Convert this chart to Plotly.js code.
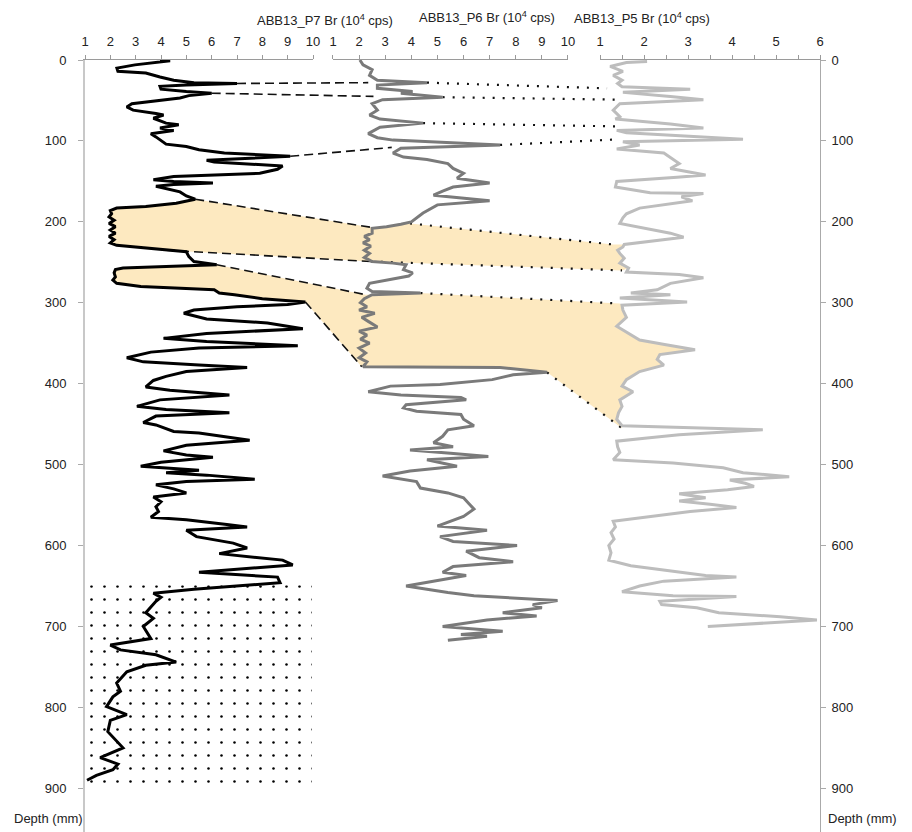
<!DOCTYPE html>
<html><head><meta charset="utf-8">
<script src="https://cdn.plot.ly/plotly-3.0.1.min.js"></script>
<style>body{margin:0;background:#fff}</style>
</head><body><div id="chart" style="width:912px;height:832px"></div>
<script>
// ---------- data (Br, 10^4 cps, vs depth in mm) ----------
const p7Depth = [0,1,6,10,14,16,21,25,28,29,31,32.5,36,39,41,44,47,51,54,58,62,66,68,72,78,80,84,87,91,95,101,104,107,111,115,119,124,126,131,135,140,144,148,150,152,154,156,160,163,168,172,177,181,183,186,190,194,198,202,206,210,214,218,222,226,229,232,235,237,243,249,253,255,257,259,263,268,272,276,280,284,288,290,295,299,302,305,309,313,320,325,332,338,344,348,353,356,361,368,373,377,380,385,391,396,404,408,414,420,428,432,436,440,448,451,459,461,470,476,483,488,491,497,502,507,510,513,518,521,525,530,535,540,546,552,558,565,568,574,577,581,589,597,603,610,618,624,633,639,646,654,659,664,669,676,683,690,700,705,715,723,729,735,744,748,756,770,780,787,799,809,816,830,840,850,862,870,877,884,890];
const p7Br = [3.96,4.36,2.97,2.26,2.3,3.4,3.96,4.5,5.3,7.0,5.0,3.96,4.0,5.0,6.0,5.1,4.75,3.6,2.85,2.65,2.9,3.8,4.1,3.7,4.2,4.7,3.96,4.5,3.6,3.8,4.1,4.2,5.0,5.5,6.5,9.1,5.8,6.1,8.8,8.6,7.9,4.5,3.7,4.5,6.05,4.5,3.8,4.3,4.75,5.0,5.35,4.6,3.4,2.25,2.0,2.05,1.95,2.15,1.95,2.2,2.0,2.2,1.95,2.15,2.0,2.25,3.3,4.2,5.0,5.1,5.3,6.2,3.8,2.5,2.2,2.15,2.2,2.1,2.25,3.2,6.1,6.3,6.9,8.0,9.7,9.0,7.0,5.3,4.9,5.8,8.2,9.6,5.8,4.1,5.8,9.4,5.5,3.6,2.65,3.3,5.5,7.4,5.0,4.2,3.7,3.4,4.35,6.7,3.96,3.05,4.2,6.7,3.8,3.3,3.8,4.5,5.5,7.5,5.0,4.1,5.0,6.05,4.0,3.2,5.5,4.2,5.8,7.7,5.0,3.8,4.5,5.0,3.7,4.0,3.8,3.9,3.6,5.0,6.6,7.4,5.0,5.4,6.85,7.4,6.3,8.8,9.2,5.5,8.6,8.7,5.3,3.7,4.0,3.8,3.6,3.4,3.7,3.3,3.4,3.6,2.0,2.4,3.8,4.6,3.4,2.65,2.25,2.4,2.1,1.85,2.65,2.0,1.9,2.2,2.5,1.6,2.3,2.1,1.45,1.08];

const p6Depth = [0,6,12,19,25,28,31,35,39,41,46,49,54,62,68,73,78,83,91,96,99,102,105,109,115,120,123,128,134,140,146,152,157,162,167,174,179,189,195,200,203,206,208,214,218,222,226,230,235,239,244,249,251,253,259,263,267,272,276,282,286,288,290,295,300,305,309,313,318,323,330,335,340,345,350,356,362,368,373,379,380,386,389,395,401,403,410,414,417,420,426,430,434,438,444,452,457,465,473,478,482,486,490,494,502,508,514,521,529,535,541,548,555,564,570,576,581,589,595,600,607,615,620,626,633,637,650,658,662,668,673,677,683,687,692,700,706,710,712,717];
const p6Br = [2.03,2.15,2.5,2.4,2.7,4.6,2.7,2.7,4.05,3.6,5.2,2.9,2.5,2.7,2.4,2.8,4.45,2.8,2.35,2.7,3.3,5.1,7.4,3.6,3.3,3.7,4.6,5.4,5.6,6.0,5.75,7.0,5.6,5.2,4.85,7.0,5.0,4.45,4.2,4.0,3.6,3.05,2.5,2.5,2.2,2.4,2.15,2.45,2.2,2.4,2.2,2.5,3.3,3.8,3.7,4.05,3.9,3.05,2.4,2.3,2.5,4.35,2.5,2.2,2.05,2.3,2.0,2.6,2.1,2.35,2.7,2.0,2.3,2.05,2.4,2.0,2.25,2.0,2.3,2.15,7.4,9.2,7.9,7.1,5.1,3.2,2.35,3.6,5.9,6.1,3.8,3.7,4.2,5.9,6.0,6.4,5.4,5.2,4.85,5.6,3.95,5.5,6.95,4.6,5.75,3.95,2.9,4.2,4.35,5.4,6.0,6.2,6.4,6.0,5.5,5.0,6.9,5.1,5.6,8.05,6.1,6.6,7.9,5.6,5.2,6.1,3.8,5.4,6.4,9.6,8.65,9.0,7.5,8.8,6.9,5.2,7.5,5.9,6.9,5.4];

const p5Depth = [2,3,8,14,19,25,29,33,36,40,45,49,54,62,70,73,79,84,87,90,98,101,105,110,115,121,128,134,142,145,150,157,164,165,169,174,180,183,190,195,202,206,210,214,219,224,228,231,235,239,245,251,257,262,265,269,276,284,288,290,294,299,303,309,318,329,336,346,352,358,364,370,377,385,395,403,410,420,428,436,444,452,457,463,467,471,478,485,494,498,504,510,515,519,523,527,531,536,541,545,549,553,558,565,570,577,584,592,600,609,618,625,632,637,639,644,650,657,662,663,669,673,677,683,688,692,700];
const p5Br = [2.07,1.6,1.23,1.52,1.3,1.5,1.4,1.5,3.05,1.52,2.6,3.35,1.45,1.3,1.45,1.35,2.6,3.35,1.38,1.6,4.25,1.52,1.9,1.38,2.45,2.6,2.8,2.6,3.4,2.75,1.38,1.35,2.14,3.35,2.85,3.1,2.36,1.9,1.6,1.52,1.45,1.84,2.2,2.6,2.9,2.2,1.55,1.52,1.4,1.45,1.55,1.45,1.65,1.6,2.8,3.35,2.6,2.3,1.7,2.6,1.45,2.98,1.5,1.52,1.6,1.38,1.6,1.9,2.5,3.16,2.36,2.3,2.45,1.9,1.6,1.5,1.75,1.45,1.5,1.42,1.38,1.5,4.7,2.8,2.07,1.38,1.4,1.45,1.3,2.66,3.8,4.25,5.3,3.95,4.3,4.5,3.9,2.8,3.4,2.8,3.5,4.1,3.05,2.07,1.3,1.35,1.25,1.32,1.2,1.25,1.2,1.7,2.75,3.4,4.1,2.45,1.9,1.5,2.66,4.1,2.36,2.4,3.2,3.7,5.1,5.93,3.45];

// correlation ties: dashed P7 -> P6, dotted P6 -> P5
const dashP7Br    = [7.0, 6.0, 9.1, 5.35, 4.2, 6.2, 9.7];
const dashP7Depth = [29, 41, 119, 172, 235, 253, 299];
const dashP6Br    = [2.35, 2.55, 3.25, 2.5, 2.45, 2.25, 2.1];
const dashP6Depth = [28, 45, 108, 207, 249, 290, 379];
const dotP6Br     = [4.6, 5.2, 4.45, 7.4, 3.95, 2.45, 4.35, 9.2];
const dotP6Depth  = [28, 46, 78, 105, 202, 249, 288, 386];
const dotP5Br     = [1.16, 1.45, 1.34, 1.45, 1.3, 1.5, 1.45, 1.5];
const dotP5Depth  = [35, 49, 82, 98, 228, 260, 301, 455];
// shaded correlated bands: indices into the tie arrays
const bandUpperDash = [3, 5];
const bandLowerDash = [4, 6];
const bandUpperDot  = [4, 6];
const bandLowerDot  = [5, 7];
// stippled interval in P7
const stippleBr = [1.05, 9.95];
const stippleDepth = [649, 897];
const depthTicks = [0,100,200,300,400,500,600,700,800,900];

// ---------- panel geometry ----------
const DOM = {p7:[0,0.3102], p6:[0.3374,0.6571], p5:[0.7007,1]};
const RNG = {p7:[1,10], p6:[1,10], p5:[1,6]};
function fx(panel, v){const d=DOM[panel], r=RNG[panel]; return d[0]+(v-r[0])/(r[1]-r[0])*(d[1]-d[0]);}
function seg(dep, val, d0, d1){const o=[]; for(let i=0;i<dep.length;i++){ if(dep[i]>=d0 && dep[i]<=d1) o.push([val[i],dep[i]]);} return o;}

const traces = [];
// shaded bands
for (let b=0;b<bandUpperDash.length;b++){
  const ud=bandUpperDash[b], ld=bandLowerDash[b], uo=bandUpperDot[b], lo=bandLowerDot[b];
  const X=[], Y=[];
  const add=(p,v,d)=>{X.push(fx(p,v)); Y.push(d);};
  add('p7', dashP7Br[ud], dashP7Depth[ud]);
  seg(p7Depth,p7Br,dashP7Depth[ud],dashP7Depth[ld]).forEach(q=>add('p7',q[0],q[1]));
  add('p7', dashP7Br[ld], dashP7Depth[ld]);
  add('p6', dashP6Br[ld], dashP6Depth[ld]);
  seg(p6Depth,p6Br,dashP6Depth[ld],dotP6Depth[lo]).forEach(q=>add('p6',q[0],q[1]));
  add('p6', dotP6Br[lo], dotP6Depth[lo]);
  add('p5', dotP5Br[lo], dotP5Depth[lo]);
  seg(p5Depth,p5Br,dotP5Depth[uo],dotP5Depth[lo]).reverse().forEach(q=>add('p5',q[0],q[1]));
  add('p5', dotP5Br[uo], dotP5Depth[uo]);
  add('p6', dotP6Br[uo], dotP6Depth[uo]);
  seg(p6Depth,p6Br,dotP6Depth[uo],dashP6Depth[ud]).forEach(q=>add('p6',q[0],q[1]));
  add('p6', dashP6Br[ud], dashP6Depth[ud]);
  add('p7', dashP7Br[ud], dashP7Depth[ud]);
  traces.push({type:'scatter',mode:'lines',x:X,y:Y,xaxis:'x',yaxis:'y',fill:'toself',
    fillcolor:'#fde9c0',line:{width:0},hoverinfo:'skip',showlegend:false});
}
// tie lines
{
  const X=[],Y=[];
  for(let i=0;i<dashP7Br.length;i++){X.push(fx('p7',dashP7Br[i]),fx('p6',dashP6Br[i]),null);Y.push(dashP7Depth[i],dashP6Depth[i],null);}
  traces.push({type:'scatter',mode:'lines',x:X,y:Y,xaxis:'x',yaxis:'y',line:{color:'#111',width:1.6,dash:'9px,5px'},hoverinfo:'skip',showlegend:false});
  const X2=[],Y2=[];
  for(let i=0;i<dotP6Br.length;i++){X2.push(fx('p6',dotP6Br[i]),fx('p5',dotP5Br[i]),null);Y2.push(dotP6Depth[i],dotP5Depth[i],null);}
  traces.push({type:'scatter',mode:'lines',x:X2,y:Y2,xaxis:'x',yaxis:'y',line:{color:'#111',width:2.2,dash:'2px,8px'},hoverinfo:'skip',showlegend:false});
}
// stipple
traces.push({type:'scatter',mode:'lines',xaxis:'x2',yaxis:'y',
  x:[stippleBr[0],stippleBr[1],stippleBr[1],stippleBr[0],stippleBr[0]],
  y:[stippleDepth[0],stippleDepth[0],stippleDepth[1],stippleDepth[1],stippleDepth[0]],
  fill:'toself',fillcolor:'rgba(0,0,0,0)',line:{width:0},
  fillpattern:{shape:'.',fgcolor:'#000',bgcolor:'rgba(255,255,255,0)',size:13,solidity:0.03},
  hoverinfo:'skip',showlegend:false});
// curves
traces.push({type:'scatter',mode:'lines',x:p7Br,y:p7Depth,xaxis:'x2',yaxis:'y',line:{color:'#000',width:3},name:'ABB13_P7',showlegend:false});
traces.push({type:'scatter',mode:'lines',x:p6Br,y:p6Depth,xaxis:'x3',yaxis:'y',line:{color:'#7a7a7a',width:3},name:'ABB13_P6',showlegend:false});
traces.push({type:'scatter',mode:'lines',x:p5Br,y:p5Depth,xaxis:'x4',yaxis:'y2',line:{color:'#bdbdbd',width:3},name:'ABB13_P5',showlegend:false});

const FONT = 'Liberation Sans, Arial, sans-serif';
const topAxis = (dom, rng, vals, anchor) => ({domain:dom, range:rng, side:'top', anchor:anchor,
  tickvals:vals, ticktext:vals.map(String), showline:true, linecolor:'#9a9a9a', linewidth:1,
  ticks:'outside', ticklen:4, tickcolor:'#9a9a9a', ticklabelstandoff:4, showgrid:false, zeroline:false,
  tickfont:{family:FONT,size:13,color:'#222'}, fixedrange:true});

const layout = {
  width:912, height:832, margin:{l:85,r:92,t:60,b:0},
  paper_bgcolor:'#fff', plot_bgcolor:'rgba(0,0,0,0)', showlegend:false,
  font:{family:FONT,color:'#222'},
  xaxis:{domain:[0,1],range:[0,1],visible:false,fixedrange:true},
  xaxis2: topAxis(DOM.p7, RNG.p7, [1,2,3,4,5,6,7,8,9,10], 'y'),
  xaxis3: topAxis(DOM.p6, RNG.p6, [1,2,3,4,5,6,7,8,9,10], 'y'),
  xaxis4: Object.assign(topAxis(DOM.p5, RNG.p5, [1,2,3,4,5,6], 'y2'),
           {minor:{dtick:0.5,tick0:1,ticks:'outside',ticklen:4,tickcolor:'#9a9a9a'}}),
  yaxis:{domain:[0,1],range:[954,0],anchor:'x',side:'left',tickvals:depthTicks,
    showline:true,linecolor:'#c8c8c8',linewidth:2,ticks:'outside',ticklen:5,tickcolor:'#aaa',
    ticklabelstandoff:9,showgrid:false,zeroline:false,tickfont:{family:FONT,size:13,color:'#222'},fixedrange:true},
  yaxis2:{domain:[0,1],range:[954,0],anchor:'x4',side:'right',tickvals:depthTicks,
    showline:true,linecolor:'#aaa',linewidth:1,ticks:'outside',ticklen:5,tickcolor:'#aaa',
    ticklabelstandoff:3,showgrid:false,zeroline:false,tickfont:{family:FONT,size:13,color:'#222'},fixedrange:true},
  annotations:[
    {text:'ABB13_P7 Br (10<sup>4</sup> cps)',xref:'paper',yref:'paper',x:0.2313,y:1.0518,yanchor:'middle',showarrow:false,font:{size:13,color:'#222'}},
    {text:'ABB13_P6 Br (10<sup>4</sup> cps)',xref:'paper',yref:'paper',x:0.547,y:1.0557,yanchor:'middle',showarrow:false,font:{size:13,color:'#222'}},
    {text:'ABB13_P5 Br (10<sup>4</sup> cps)',xref:'paper',yref:'paper',x:0.853,y:1.054,yanchor:'middle',showarrow:false,font:{size:13,color:'#222'}},
    {text:'Depth (mm)',xref:'paper',yref:'paper',x:0,xanchor:'right',y:0.018,yanchor:'middle',showarrow:false,font:{size:13,color:'#222'}},
    {text:'Depth (mm)',xref:'paper',yref:'paper',x:1.008,xanchor:'left',y:0.018,yanchor:'middle',showarrow:false,font:{size:13,color:'#222'}}
  ]
};
Plotly.newPlot('chart', traces, layout, {displayModeBar:false, staticPlot:true});
</script></body></html>
